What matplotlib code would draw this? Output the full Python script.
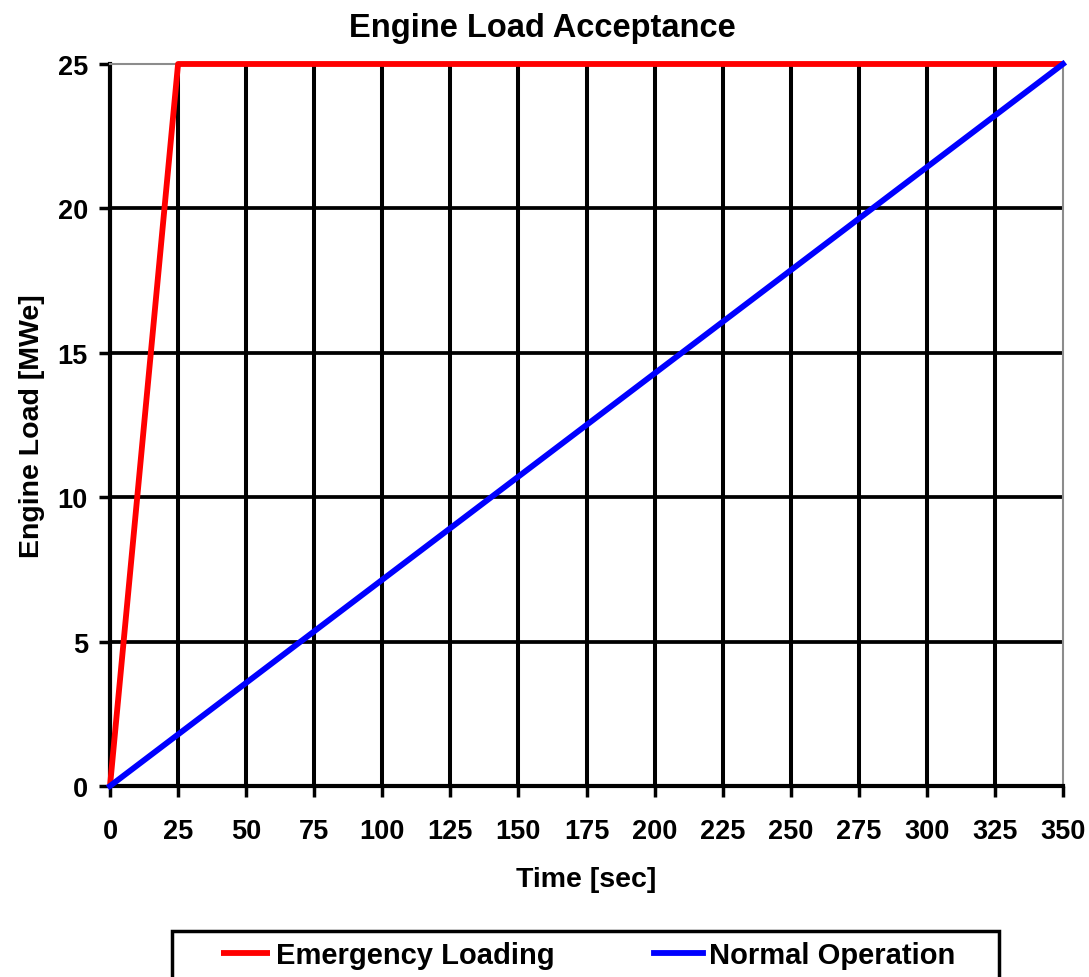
import matplotlib
matplotlib.use('Agg')
import matplotlib.pyplot as plt
from matplotlib.patches import Rectangle

plt.rcParams['font.family'] = ['Liberation Sans', 'DejaVu Sans']
plt.rcParams['font.weight'] = 'bold'

# data
emergency_time = [0, 25, 350]
emergency_load = [0, 25, 25]
normal_time = [0, 350]
normal_load = [0, 25]

x_ticks = list(range(0, 351, 25))
y_ticks = [0, 5, 10, 15, 20, 25]

fig = plt.figure(figsize=(10.89, 9.78), dpi=100)
ax = fig.add_axes([110 / 1089, 1 - 787 / 978, (1063 - 110) / 1089, (787 - 65) / 978])

ax.set_xlim(0, 350)
ax.set_ylim(0, 25)
ax.set_xticks(x_ticks)
ax.set_yticks(y_ticks)

# grid only inside the frame, outer edges are the spines
for x in x_ticks[1:-1]:
    ax.axvline(x, color='black', lw=2.9, zorder=1)
for y in y_ticks[1:-1]:
    ax.axhline(y, color='black', lw=2.7, zorder=1)

ax.plot(emergency_time, emergency_load, color='#ff0000', lw=4.2,
        label='Emergency Loading', clip_on=False, zorder=3, solid_capstyle='butt')
ax.plot(normal_time, normal_load, color='#0000ff', lw=4.2,
        label='Normal Operation', clip_on=False, zorder=4, solid_capstyle='projecting')

for side in ['left', 'bottom']:
    ax.spines[side].set_color('black')
    ax.spines[side].set_linewidth(3.0)
for side in ['top', 'right']:
    ax.spines[side].set_color('#8c8c8c')
    ax.spines[side].set_linewidth(1.5)

ax.tick_params(axis='both', direction='out', length=8, width=2.5, labelsize=19.5)
ax.tick_params(axis='x', pad=15)
ax.tick_params(axis='y', pad=8)

ax.set_xlabel('Time [sec]', fontsize=20.5, fontweight='bold', labelpad=16)
ax.set_ylabel('Engine Load [MWe]', fontsize=20.5, fontweight='bold', labelpad=9)
fig.text(0.498, 1 - 28 / 978, 'Engine Load Acceptance', ha='center', va='center',
         fontsize=23.5, fontweight='bold')

handles, labels = ax.get_legend_handles_labels()
fig.legend(handles, labels, loc='center', bbox_to_anchor=(0.540, 1 - 956 / 978),
           ncol=2, frameon=False, fontsize=21, handlelength=1.7,
           handletextpad=0.2, columnspacing=3.4)
fig.patches.append(Rectangle((172 / 1089, -0.05), (999 - 172) / 1089, 0.05 + (978 - 932) / 978,
                             transform=fig.transFigure, fill=False, edgecolor='black',
                             lw=2.5, clip_on=False))

plt.savefig('out.png', dpi=100)
plt.close()
